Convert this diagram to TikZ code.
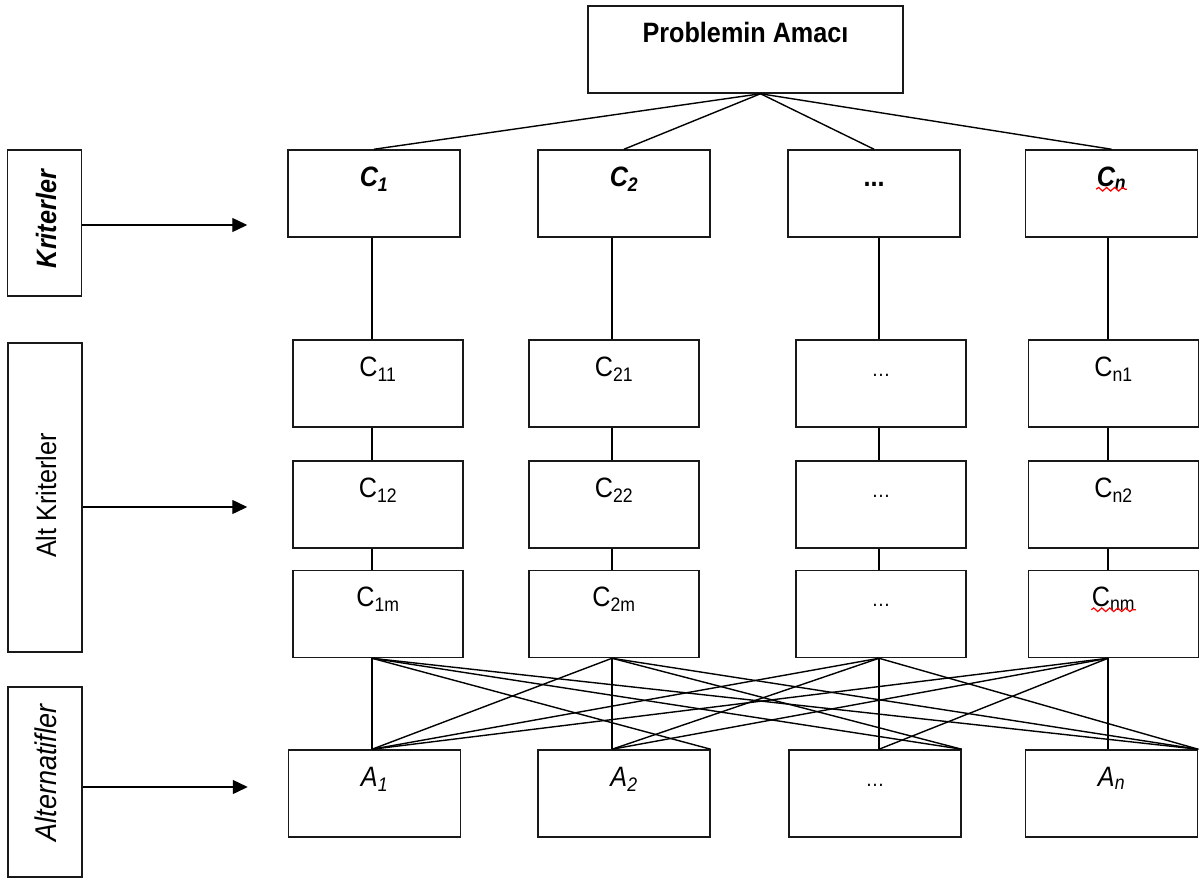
\documentclass[tikz,border=0pt]{standalone}
\usepackage{fontspec}
\setmainfont[FakeStretch=0.9]{Liberation Sans}
\usetikzlibrary{arrows.meta,decorations.pathmorphing,calc}
\begin{document}
\begin{tikzpicture}[x=1pt,y=-1pt,line width=1.3pt,
  box/.style={draw=black!90,line width=1.5pt,rectangle,inner sep=0pt,minimum height=87pt},
  sidebox/.style={draw=black!90,line width=1.5pt,rectangle,inner sep=0pt,minimum width=74pt},
  txt/.style={inner sep=0pt,anchor=base,font=\fontsize{28}{32}\selectfont},
  sidetxt/.style={inner sep=0pt,rotate=90,font=\fontsize{28}{32}\selectfont},
  arr/.style={-{Triangle[length=15pt,width=14pt]},line width=1.4pt},
  conn/.style={line width=1.4pt,black},
  squig/.style={red,line width=1.2pt,decorate,decoration={snake,amplitude=1.8pt,segment length=8pt}}]
\useasboundingbox (0,0) rectangle (1204,880);
% column line positions
\coordinate (q1) at (372,0);
\coordinate (q2) at (612,0);
\coordinate (q3) at (879,0);
\coordinate (q4) at (1108,0);
% goal
\node[box,minimum width=315pt] (goal) at (745.5,49.5) {};
\node[txt] (tgoal) at ($(goal.north)+(0,37)$) {\bfseries Problemin Amacı};
% criteria
\node[box,minimum width=172pt] (c1) at (374,193.5) {};
\node[box,minimum width=172pt] (c2) at (624,193.5) {};
\node[box,minimum width=172pt] (c3) at (874,193.5) {};
\node[box,minimum width=172pt] (c4) at (1111.5,193.5) {};
\node[txt] (tc1) at ($(c1.north)+(0,37)$) {\bfseries\itshape C\textsubscript{1}};
\node[txt] (tc2) at ($(c2.north)+(0,37)$) {\bfseries\itshape C\textsubscript{2}};
\node[txt] (tc3) at ($(c3.north)+(0,37)$) {\bfseries ...};
\node[txt] (tc4) at ($(c4.north)+(0,37)$) {\bfseries\itshape C\textsubscript{n}};
\draw[squig] ([yshift=-3pt]tc4.base west) -- ([yshift=-3pt]tc4.base east);
% sub criteria
\foreach \r/\y in {1/383.5,2/504.5,3/614}{
  \node[box,minimum width=170pt] (s1\r) at (378,\y) {};
  \node[box,minimum width=170pt] (s2\r) at (614,\y) {};
  \node[box,minimum width=170pt] (s3\r) at (881,\y) {};
  \node[box,minimum width=170pt] (s4\r) at (1113.5,\y) {};
}
\node[txt] (t11) at ($(s11.north)+(0,37)$) {C\textsubscript{11}};
\node[txt] (t21) at ($(s21.north)+(0,37)$) {C\textsubscript{21}};
\node[txt] (t31) at ($(s31.north)+(0,37)$) {\fontsize{21}{24}\selectfont …};
\node[txt] (t41) at ($(s41.north)+(0,37)$) {C\textsubscript{n1}};
\node[txt] (t12) at ($(s12.north)+(0,37)$) {C\textsubscript{12}};
\node[txt] (t22) at ($(s22.north)+(0,37)$) {C\textsubscript{22}};
\node[txt] (t32) at ($(s32.north)+(0,37)$) {\fontsize{21}{24}\selectfont …};
\node[txt] (t42) at ($(s42.north)+(0,37)$) {C\textsubscript{n2}};
\node[txt] (t13) at ($(s13.north)+(0,37)$) {C\textsubscript{1m}};
\node[txt] (t23) at ($(s23.north)+(0,37)$) {C\textsubscript{2m}};
\node[txt] (t33) at ($(s33.north)+(0,37)$) {\fontsize{21}{24}\selectfont …};
\node[txt] (t43) at ($(s43.north)+(0,37)$) {C\textsubscript{nm}};
\draw[squig] ([yshift=-3pt]t43.base west) -- ([yshift=-3pt]t43.base east);
% alternatives
\node[box,minimum width=172pt] (a1) at (374.5,793.5) {};
\node[box,minimum width=172pt] (a2) at (624,793.5) {};
\node[box,minimum width=172pt] (a3) at (875,793.5) {};
\node[box,minimum width=172pt] (a4) at (1111.5,793.5) {};
\node[txt] (ta1) at ($(a1.north)+(0,37)$) {\itshape A\textsubscript{1}};
\node[txt] (ta2) at ($(a2.north)+(0,37)$) {\itshape A\textsubscript{2}};
\node[txt] (ta3) at ($(a3.north)+(0,37)$) {\fontsize{21}{24}\selectfont …};
\node[txt] (ta4) at ($(a4.north)+(0,37)$) {\itshape A\textsubscript{n}};
% side labels
\node[sidebox,minimum height=146pt] (kr) at (44.5,223) {};
\node[sidebox,minimum height=309pt] (alt) at (45,497.5) {};
\node[sidebox,minimum height=190pt] (alter) at (45,782) {};
\node[sidetxt] (tkr) at ($(kr)+(1.5,-4)$) {\bfseries\itshape Kriterler};
\node[sidetxt] (talt) at ($(alt)+(1,-2)$) {Alt Kriterler};
\node[sidetxt,font=\fontsize{30}{34}\selectfont] (talter) at ($(alter)+(1,-9)$) {\itshape Alternatifler};
\draw[arr,shorten >=40pt] ([yshift=-2pt]kr.east) -- ([yshift=-2pt]kr.east -| c1.west);
\draw[arr,shorten >=45pt] ([yshift=-9.5pt]alt.east) -- ([yshift=-9.5pt]alt.east -| s11.west);
\draw[arr,shorten >=40pt] ([yshift=-5pt]alter.east) -- ([yshift=-5pt]alter.east -| a1.west);
% goal to criteria
\coordinate (apex) at ([xshift=15pt]goal.south);
\foreach \c in {c1,c2,c3,c4} \draw[conn] (apex) -- (\c.north);
% vertical chains
\foreach \i in {1,2,3,4}{
  \draw[conn] (c\i.south -| q\i) -- (s\i1.north -| q\i);
  \draw[conn] (s\i1.south -| q\i) -- (s\i2.north -| q\i);
  \draw[conn] (s\i2.south -| q\i) -- (s\i3.north -| q\i);
}
% sub criteria to alternatives
\coordinate (p1) at (a1.north -| q1);
\coordinate (p2) at (a2.north -| q2);
\coordinate (p3) at (a3.north -| q3);
\coordinate (p4) at (a4.north -| q4);
\coordinate (b1) at (s13.south -| q1);
\coordinate (b2) at (s23.south -| q2);
\coordinate (b3) at (s33.south -| q3);
\coordinate (b4) at (s43.south -| q4);
\draw[conn] (b1) -- (p1);
\draw[conn] (b1) -- (a2.north east);
\draw[conn] (b1) -- (a3.north east);
\draw[conn] (b1) -- (a4.north east);
\draw[conn] (b2) -- (p1);
\draw[conn] (b2) -- (p2);
\draw[conn] (b2) -- (a3.north east);
\draw[conn] (b2) -- (a4.north east);
\draw[conn] (b3) -- (p1);
\draw[conn] (b3) -- (p2);
\draw[conn] (b3) -- (p3);
\draw[conn] (b3) -- (a4.north east);
\draw[conn] (b4) -- (p1);
\draw[conn] (b4) -- (p2);
\draw[conn] (b4) -- (p3);
\draw[conn] (b4) -- (p4);
\end{tikzpicture}
\end{document}
